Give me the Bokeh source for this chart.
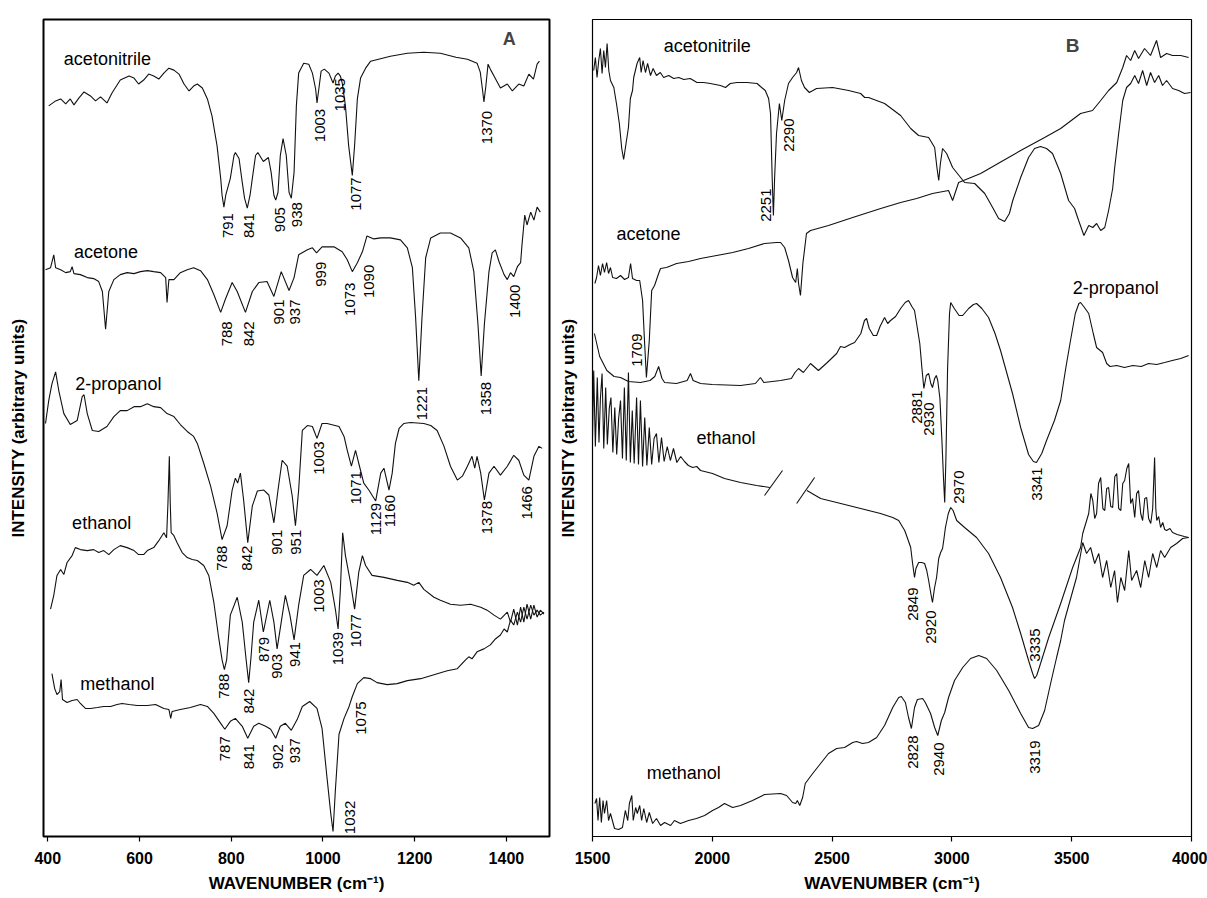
import math
from bokeh.plotting import figure
from bokeh.models import Range1d, FixedTicker, ColumnDataSource, Label
from bokeh.layouts import row
from bokeh.embed import file_html
from bokeh.resources import INLINE
from bokeh.core.properties import value

# ---------------- DATA (wavenumber cm-1, intensity arbitrary units) ----------------
A_acetonitrile = [(402,736),(417,741),(428,743),(439,738),(449,743),(457,737),(468,744),(479,750),(493,746),(504,741),(515,745),(529,739),(540,749),(558,762),(577,766),(588,764),(598,758),(609,762),(620,768),(631,766),(642,763),(653,769),(664,774),(675,772),(686,768),(697,758),(708,751),(718,756),(726,758),(737,754),(748,743),(758,726),(769,696),(777,663),(780,646),(784,634),(788,646),(798,663),(806,686),(809,689),(817,683),(824,659),(829,643),(835,633),(841,646),(846,663),(853,686),(858,689),(870,680),(881,684),(887,669),(893,646),(897,641),(902,649),(907,686),(913,703),(920,686),(926,649),(931,643),(937,669),(942,736),(947,769),(958,779),(969,778),(977,769),(984,753),(987,739),(991,753),(996,771),(1003,773),(1013,769),(1022,759),(1027,766),(1033,769),(1038,766),(1042,759),(1049,736),(1056,696),(1064,666),(1069,696),(1075,743),(1082,764),(1093,774),(1104,781),(1147,786),(1184,789),(1220,790),(1256,789),(1290,785),(1315,783),(1336,779),(1343,770),(1348,752),(1351,740),(1355,755),(1360,778),(1366,772),(1373,766),(1387,754),(1402,758),(1413,751),(1427,758),(1438,756),(1449,768),(1459,763),(1467,778),(1472,781)]

A_acetone = [(395,571),(406,573),(413,586),(417,573),(428,571),(439,568),(449,569),(453,574),(457,567),(471,566),(486,563),(500,562),(511,559),(519,549),(526,511),(533,549),(544,561),(558,566),(573,568),(588,567),(602,569),(617,570),(631,569),(646,568),(657,563),(660,538),(664,561),(675,561),(689,568),(704,571),(718,573),(733,570),(748,561),(762,546),(777,528),(787,541),(802,558),(813,549),(831,528),(846,549),(860,558),(878,559),(893,544),(909,569),(926,550),(937,563),(947,586),(966,591),(977,593),(986,588),(998,594),(1024,594),(1042,589),(1053,581),(1064,569),(1075,578),(1086,589),(1096,605),(1111,602),(1126,603),(1147,603),(1169,601),(1184,593),(1195,573),(1202,523),(1209,459),(1216,523),(1224,583),(1235,603),(1256,608),(1278,608),(1300,603),(1318,593),(1329,569),(1338,516),(1345,464),(1352,516),(1362,569),(1369,588),(1376,591),(1384,579),(1395,566),(1402,561),(1409,568),(1416,564),(1424,574),(1431,578),(1434,596),(1440,626),(1445,616),(1453,629),(1460,621),(1467,634),(1474,629)]

A_2propanol = [(395,416),(402,439),(409,456),(417,468),(424,449),(435,426),(449,415),(464,419),(475,443),(479,445),(486,426),(497,409),(511,408),(529,413),(544,423),(558,429),(573,429),(588,433),(602,433),(617,436),(631,433),(646,432),(660,426),(675,423),(689,415),(704,408),(718,403),(726,396),(740,376),(755,353),(769,326),(780,299),(791,313),(802,349),(809,361),(814,356),(820,366),(827,339),(836,296),(846,333),(857,348),(871,349),(882,344),(893,316),(902,349),(911,379),(922,373),(933,343),(940,313),(947,349),(955,409),(966,414),(977,413),(987,401),(998,416),(1009,416),(1035,413),(1046,403),(1053,389),(1062,373),(1071,389),(1078,376),(1089,356),(1100,349),(1115,338),(1126,366),(1133,371),(1144,349),(1151,366),(1158,396),(1166,411),(1176,416),(1191,417),(1220,416),(1235,414),(1249,409),(1264,393),(1278,373),(1293,359),(1304,363),(1315,373),(1325,383),(1331,371),(1336,383),(1344,366),(1352,339),(1362,366),(1373,373),(1387,364),(1402,373),(1416,384),(1427,379),(1438,364),(1449,359),(1460,383),(1471,393),(1478,391)]

A_ethanol = [(406,229),(413,243),(420,263),(428,269),(435,264),(442,276),(453,283),(460,291),(471,289),(486,288),(500,289),(511,286),(522,288),(533,284),(544,289),(558,293),(573,291),(588,288),(598,284),(609,284),(617,288),(631,291),(642,298),(653,306),(659,301),(662,336),(665,383),(667,336),(669,306),(675,303),(682,296),(693,286),(704,281),(715,279),(726,278),(740,273),(751,263),(762,236),(773,199),(780,178),(785,168),(790,178),(798,223),(813,241),(824,216),(832,180),(838,155),(843,180),(849,216),(860,238),(870,206),(884,238),(893,216),(900,189),(909,216),(918,243),(928,223),(937,198),(947,233),(958,263),(973,269),(987,263),(1002,273),(1017,256),(1027,229),(1033,209),(1038,249),(1043,306),(1049,283),(1060,256),(1069,229),(1078,266),(1086,283),(1093,273),(1107,263),(1133,261),(1162,258),(1184,256),(1198,253),(1209,256),(1220,249),(1242,241),(1256,238),(1278,234),(1300,233),(1322,234),(1344,231),(1358,228),(1373,223),(1387,219),(1402,226),(1409,216),(1416,229),(1424,213),(1431,231),(1438,216),(1445,234),(1453,219),(1460,233),(1467,221),(1474,228),(1482,224)]

A_methanol = [(409,164),(415,149),(420,143),(426,146),(429,158),(432,138),(442,135),(453,137),(464,138),(471,134),(482,129),(493,129),(508,130),(522,131),(537,131),(551,133),(562,134),(577,133),(595,132),(617,132),(635,133),(653,129),(664,128),(668,119),(671,126),(689,128),(711,130),(733,133),(748,131),(762,124),(777,114),(786,108),(798,116),(809,119),(824,111),(836,99),(849,111),(860,114),(875,111),(886,108),(897,99),(907,111),(918,114),(931,107),(944,118),(955,131),(971,136),(987,129),(998,109),(1008,63),(1017,23),(1022,5),(1027,46),(1035,103),(1046,119),(1057,131),(1064,141),(1075,154),(1089,160),(1104,159),(1118,155),(1140,153),(1162,154),(1184,157),(1213,159),(1242,163),(1271,167),(1293,169),(1311,178),(1318,181),(1325,179),(1336,186),(1351,189),(1365,193),(1376,199),(1387,203),(1395,209),(1402,206),(1409,218),(1416,213),(1424,226),(1431,216),(1438,231),(1445,219),(1453,233),(1460,223),(1467,228),(1474,223),(1482,226)]

B_acetonitrile = [(1505,768),(1512,781),(1519,761),(1526,778),(1533,790),(1540,765),(1547,788),(1554,771),(1561,795),(1568,768),(1575,758),(1589,751),(1600,735),(1612,715),(1622,690),(1630,679),(1640,695),(1650,711),(1658,740),(1667,748),(1672,761),(1686,775),(1697,781),(1703,766),(1711,778),(1721,766),(1730,775),(1742,763),(1753,770),(1767,763),(1783,766),(1797,761),(1818,763),(1839,760),(1860,761),(1881,759),(1908,760),(1936,756),(1964,756),(1992,755),(2034,753),(2055,751),(2075,755),(2103,756),(2145,756),(2187,755),(2201,752),(2221,748),(2235,740),(2243,725),(2250,660),(2255,623),(2260,660),(2268,705),(2280,735),(2290,718),(2302,738),(2318,755),(2335,761),(2352,766),(2360,771),(2372,758),(2385,751),(2405,746),(2435,750),(2502,751),(2569,748),(2619,745),(2636,741),(2652,741),(2719,735),(2786,723),(2828,710),(2861,703),(2903,701),(2928,691),(2938,670),(2945,658),(2952,675),(2961,690),(2978,685),(3003,671),(3053,656),(3095,655),(3137,645),(3170,631),(3195,620),(3220,617),(3240,625),(3254,638),(3287,661),(3320,681),(3345,690),(3370,692),(3395,690),(3420,685),(3454,665),(3487,638),(3512,630),(3529,618),(3551,603),(3571,613),(3588,611),(3604,615),(3621,608),(3638,611),(3654,628),(3671,650),(3679,670),(3696,705),(3713,738),(3729,751),(3746,755),(3763,763),(3779,755),(3796,768),(3813,753),(3829,766),(3846,756),(3863,763),(3879,753),(3896,758),(3921,750),(3946,748),(3971,745),(3996,746)]

B_acetone = [(1510,555),(1517,561),(1525,573),(1533,563),(1542,575),(1550,566),(1559,576),(1567,565),(1575,571),(1584,561),(1600,560),(1617,563),(1634,559),(1650,561),(1659,575),(1667,560),(1684,558),(1697,558),(1709,538),(1717,498),(1725,461),(1737,498),(1747,548),(1759,553),(1776,565),(1784,570),(1809,571),(1851,575),(1901,577),(1951,580),(2018,583),(2085,586),(2151,590),(2218,595),(2268,596),(2285,596),(2302,591),(2318,578),(2335,561),(2348,556),(2355,570),(2360,555),(2368,543),(2378,575),(2393,605),(2410,608),(2485,613),(2586,621),(2703,630),(2786,636),(2853,640),(2919,645),(2986,648),(3003,638),(3028,656),(3120,665),(3200,676),(3287,688),(3387,701),(3454,710),(3537,725),(3587,728),(3621,738),(3654,748),(3688,756),(3713,771),(3729,783),(3746,778),(3763,788),(3779,780),(3804,790),(3829,783),(3854,798),(3871,781),(3896,785),(3921,783),(3955,783),(3988,781)]

B_2propanol = [(1508,505),(1530,482),(1560,468),(1590,462),(1617,461),(1650,457),(1700,456),(1740,458),(1760,462),(1776,472),(1790,460),(1801,456),(1850,455),(1895,458),(1909,465),(1920,458),(1951,455),(2000,454),(2118,453),(2180,455),(2201,461),(2215,456),(2285,458),(2330,460),(2345,466),(2360,470),(2380,466),(2410,475),(2443,468),(2480,476),(2519,485),(2535,492),(2552,491),(2575,494),(2594,496),(2620,505),(2635,518),(2644,520),(2655,510),(2672,503),(2686,503),(2700,512),(2719,521),(2732,515),(2744,518),(2765,522),(2786,530),(2805,536),(2819,538),(2833,532),(2844,528),(2856,510),(2866,495),(2875,470),(2883,450),(2893,463),(2903,465),(2912,455),(2919,451),(2928,460),(2935,463),(2941,458),(2950,440),(2958,400),(2965,360),(2970,336),(2975,380),(2982,470),(2990,525),(2995,536),(3010,530),(3030,523),(3045,523),(3070,530),(3090,534),(3103,535),(3125,530),(3153,521),(3180,505),(3203,488),(3253,445),(3287,411),(3320,384),(3340,377),(3353,376),(3375,385),(3395,398),(3428,418),(3454,438),(3475,470),(3495,498),(3515,525),(3530,535),(3537,536),(3550,532),(3571,525),(3590,505),(3604,491),(3629,486),(3646,475),(3660,472),(3688,473),(3720,471),(3755,473),(3790,472),(3821,475),(3855,474),(3888,476),(3920,478),(3955,480),(3988,483)]

B_ethanol_left = [(1500,400),(1505,468),(1512,392),(1520,461),(1527,396),(1533,440),(1540,465),(1547,390),(1555,451),(1562,394),(1570,430),(1577,441),(1585,386),(1593,431),(1601,384),(1609,420),(1617,438),(1625,380),(1633,451),(1641,378),(1650,466),(1658,376),(1666,428),(1674,375),(1684,441),(1692,374),(1700,438),(1709,372),(1718,421),(1727,373),(1737,411),(1747,374),(1757,400),(1767,405),(1777,376),(1788,401),(1799,377),(1812,392),(1825,378),(1838,390),(1852,376),(1868,382),(1884,377),(1900,373),(1918,371),(1935,372),(1951,368),(2001,365),(2051,360),(2118,356),(2185,353),(2240,351)]

B_ethanol_right = [(2395,348),(2452,340),(2536,335),(2619,330),(2702,325),(2753,321),(2778,318),(2803,308),(2818,298),(2828,291),(2836,275),(2844,261),(2850,270),(2861,276),(2874,276),(2886,275),(2895,268),(2903,258),(2912,245),(2919,236),(2927,250),(2936,261),(2945,280),(2953,286),(2961,290),(2967,300),(2973,311),(2985,325),(2995,331),(3005,328),(3020,318),(3053,311),(3103,301),(3153,285),(3203,261),(3253,231),(3287,205),(3320,178),(3337,165),(3345,160),(3354,163),(3370,175),(3404,201),(3454,235),(3504,271),(3537,291),(3546,305),(3571,325),(3580,345),(3588,338),(3596,320),(3604,325),(3612,355),(3621,361),(3630,330),(3638,328),(3646,350),(3654,351),(3663,332),(3671,331),(3680,362),(3688,365),(3696,330),(3705,328),(3713,355),(3721,358),(3730,370),(3738,375),(3746,335),(3754,340),(3763,321),(3771,345),(3779,348),(3788,325),(3796,318),(3805,340),(3813,341),(3821,320),(3830,315),(3838,330),(3846,381),(3851,330),(3855,318),(3863,322),(3871,311),(3880,316),(3888,309),(3896,308),(3910,310),(3921,306),(3940,304),(3955,303),(3970,302),(3988,301)]

B_methanol = [(1510,35),(1517,40),(1523,18),(1530,41),(1537,16),(1544,38),(1550,25),(1559,38),(1567,18),(1575,25),(1592,10),(1609,9),(1625,11),(1637,28),(1647,18),(1654,35),(1664,43),(1670,18),(1680,31),(1687,25),(1697,33),(1705,18),(1714,30),(1726,16),(1737,26),(1751,15),(1767,20),(1784,13),(1801,16),(1826,13),(1842,18),(1867,15),(1901,18),(1934,20),(1968,23),(2001,28),(2026,31),(2051,35),(2085,31),(2118,33),(2168,38),(2218,44),(2285,45),(2310,43),(2335,36),(2348,35),(2355,38),(2365,33),(2377,41),(2388,55),(2419,65),(2452,75),(2485,85),(2519,90),(2552,91),(2586,96),(2602,97),(2627,95),(2652,96),(2686,101),(2719,113),(2753,131),(2778,141),(2789,142),(2806,136),(2819,121),(2831,110),(2844,131),(2856,139),(2878,140),(2889,136),(2911,125),(2928,111),(2941,103),(2956,118),(2970,126),(2986,141),(3011,158),(3045,171),(3078,180),(3112,183),(3145,180),(3187,168),(3237,148),(3287,125),(3320,111),(3337,110),(3362,113),(3387,128),(3412,155),(3437,181),(3454,198),(3470,218),(3520,261),(3546,296),(3562,285),(3579,291),(3596,275),(3613,285),(3629,261),(3646,278),(3663,251),(3679,268),(3691,236),(3705,261),(3721,248),(3738,288),(3750,258),(3771,268),(3788,251),(3805,278),(3821,261),(3838,285),(3855,271),(3871,288),(3888,281),(3913,291),(3938,295),(3963,300),(3988,301)]

# axis break marks on the ethanol trace (x0, y0, x1, y1)
B_breaks = [(2218,343,2293,368),(2352,335,2427,361)]

# peak labels: (text, wavenumber position, intensity position of label top)
A_peak_labels = [
    ("791",792,628),("841",838,628),("905",906,634),("938",944,639),("1003",993,733),("1035",1037,764),("1077",1073,664),("1370",1358,731),
    ("788",791,519),("842",838,519),("901",905,541),("937",940,541),("999",995,579),("1073",1059,558),("1090",1100,576),("1221",1215,453),("1358",1355,458),("1400",1418,556),
    ("788",780,293),("842",835,293),("901",900,309),("951",942,309),("1003",991,398),("1071",1071,368),("1129",1115,336),("1160",1146,344),("1378",1358,338),("1466",1445,353),
    ("788",784,164),("842",838,149),("879",871,201),("903",900,184),("941",940,196),("1003",991,259),("1039",1033,206),("1077",1073,224),
    ("787",787,101),("841",838,93),("902",902,93),("937",940,99),("1032",1060,36),("1075",1083,136),
]
B_peak_labels = [
    ("2251",2226,650),("2290",2322,720),("1709",1684,505),("2881",2853,448),("2930",2903,436),
    ("2970",3028,368),("3341",3354,371),("2849",2836,251),("2920",2911,228),("3335",3345,210),
    ("2828",2836,103),("2940",2945,96),("3319",3345,98),
]
# spectrum names: (text, wavenumber, intensity)
A_names = [("acetonitrile",435,783),("acetone",457,589),("2-propanol",460,456),("ethanol",453,316),("methanol",471,154)]
B_names = [("acetonitrile",1797,793),("acetone",1600,605),("2-propanol",3504,551),("ethanol",1934,401),("methanol",1726,66)]

A_ticks = [400, 600, 800, 1000, 1200, 1400]
B_ticks = [1500, 2000, 2500, 3000, 3500, 4000]

FONT = "Liberation Sans"


def make_fig(xr, yr, w, h, bl, br, bt, bb, ticks, ow, ylab_standoff):
    p = figure(width=w, height=h, x_range=Range1d(*xr), y_range=Range1d(*yr),
               output_backend="svg", toolbar_location=None,
               min_border_left=bl, min_border_right=br, min_border_top=bt, min_border_bottom=bb)
    p.xgrid.visible = False
    p.ygrid.visible = False
    p.outline_line_color = "black"
    p.outline_line_width = ow
    p.background_fill_color = "white"
    p.border_fill_color = "white"
    xa = p.xaxis[0]
    xa.ticker = FixedTicker(ticks=ticks)
    xa.axis_line_color = None
    xa.major_tick_out = 5
    xa.major_tick_in = 0
    xa.minor_tick_out = 0
    xa.minor_tick_in = 0
    xa.major_tick_line_color = "black"
    xa.major_tick_line_width = 1.2
    xa.major_label_standoff = 10
    xa.major_label_text_font = FONT
    xa.major_label_text_font_style = "bold"
    xa.major_label_text_font_size = "16px"
    xa.major_label_text_color = "black"
    xa.axis_label = "WAVENUMBER (cm\u207b\u00b9)"
    xa.axis_label_text_font = FONT
    xa.axis_label_text_font_style = "bold"
    xa.axis_label_text_font_size = "17px"
    xa.axis_label_text_color = "black"
    xa.axis_label_standoff = 7
    ya = p.yaxis[0]
    ya.ticker = FixedTicker(ticks=[])
    ya.axis_line_color = None
    ya.major_tick_out = 0
    ya.major_tick_in = 0
    ya.minor_tick_out = 0
    ya.minor_tick_in = 0
    ya.major_label_standoff = 0
    ya.major_label_text_font_size = "0px"
    ya.axis_label = "INTENSITY (arbitrary units)"
    ya.axis_label_text_font = FONT
    ya.axis_label_text_font_style = "bold"
    ya.axis_label_text_font_size = "17px"
    ya.axis_label_text_color = "black"
    ya.axis_label_standoff = ylab_standoff
    return p


def draw_line(p, pts):
    xs = [a for a, b in pts]
    ys = [b for a, b in pts]
    p.line(xs, ys, line_color="#111111", line_width=1.1)


def draw_peak_labels(p, labels):
    src = ColumnDataSource(dict(t=[l[0] for l in labels], x=[l[1] for l in labels], y=[l[2] for l in labels]))
    p.text(x="x", y="y", text="t", source=src, angle=math.pi / 2, text_align="right",
           text_baseline="middle", text_font=value(FONT), text_font_size=value("15px"), text_color="black")


def draw_names(p, names):
    src = ColumnDataSource(dict(t=[l[0] for l in names], x=[l[1] for l in names], y=[l[2] for l in names]))
    p.text(x="x", y="y", text="t", source=src, text_align="left", text_baseline="middle",
           text_font=value(FONT), text_font_size=value("18px"), text_color="black")


pA = make_fig((390.6, 1494), (0, 823), 552, 897, 43, 3, 13, 61, A_ticks, 2, 16)
for s in (A_acetonitrile, A_acetone, A_2propanol, A_ethanol, A_methanol):
    draw_line(pA, s)
draw_peak_labels(pA, A_peak_labels)
draw_names(pA, A_names)
pA.add_layout(Label(x=1406, y=803, text="A", text_font=FONT, text_font_style="bold",
                    text_font_size="18px", text_align="center", text_baseline="middle"))

pB = make_fig((1500, 4000), (2, 819), 655, 897, 40, 16, 19, 61, B_ticks, 1.2, 15)
for s in (B_acetonitrile, B_acetone, B_2propanol, B_ethanol_left, B_ethanol_right, B_methanol):
    draw_line(pB, s)
pB.segment(x0=[b[0] for b in B_breaks], y0=[b[1] for b in B_breaks],
           x1=[b[2] for b in B_breaks], y1=[b[3] for b in B_breaks], line_color="#111111", line_width=1.1)
draw_peak_labels(pB, B_peak_labels)
draw_names(pB, B_names)
pB.add_layout(Label(x=3504, y=793, text="B", text_font=FONT, text_font_style="bold",
                    text_font_size="19px", text_align="center", text_baseline="middle"))

layout = row(pA, pB)
open("out.html", "w").write(file_html(layout, INLINE))
